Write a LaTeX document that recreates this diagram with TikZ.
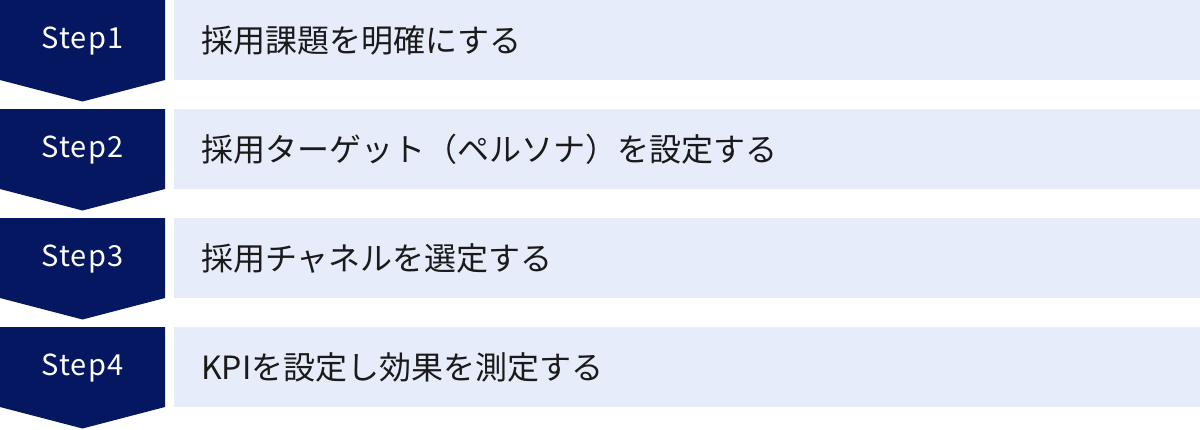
\documentclass[tikz,border=0pt]{standalone}
\usepackage{fontspec}
\setmainfont{Noto Sans CJK JP}
\newfontfamily\stepfont[LetterSpace=4]{Noto Sans CJK JP}
\definecolor{navy}{HTML}{041760}
\definecolor{lightbox}{HTML}{E6ECFA}
\definecolor{txt}{HTML}{1A1A1A}
\begin{document}
\begin{tikzpicture}[x=1pt,y=-1pt,
  chev/.style={fill=navy,draw=none},
  boxbg/.style={fill=lightbox,draw=none},
  steplabel/.style={text=white,font=\stepfont\fontsize{29}{34}\selectfont,anchor=center,inner sep=0},
  desc/.style={text=txt,font=\fontsize{32}{36}\selectfont,anchor=west,inner sep=0}]
\useasboundingbox (0,0) rectangle (1200,429);
\foreach \i/\t in {0/採用課題を明確にする,1/採用ターゲット（ペルソナ）を設定する,2/採用チャネルを選定する,3/KPIを設定し効果を測定する}{
  \pgfmathsetmacro{\y}{\i*109}
  \fill[chev] (0,\y) -- (165,\y) -- (165,\y+80) -- (82.5,\y+101.5) -- (0,\y+80) -- cycle;
  \fill[boxbg] (174,\y) rectangle (1200,\y+80);
  \pgfmathtruncatemacro{\n}{\i+1}
  \node[steplabel] (s\n) at (82.5,\y+41) {Step\n};
  \node[desc] (d\n) at (201,\y+40) {\t};
}
\end{tikzpicture}
\end{document}
